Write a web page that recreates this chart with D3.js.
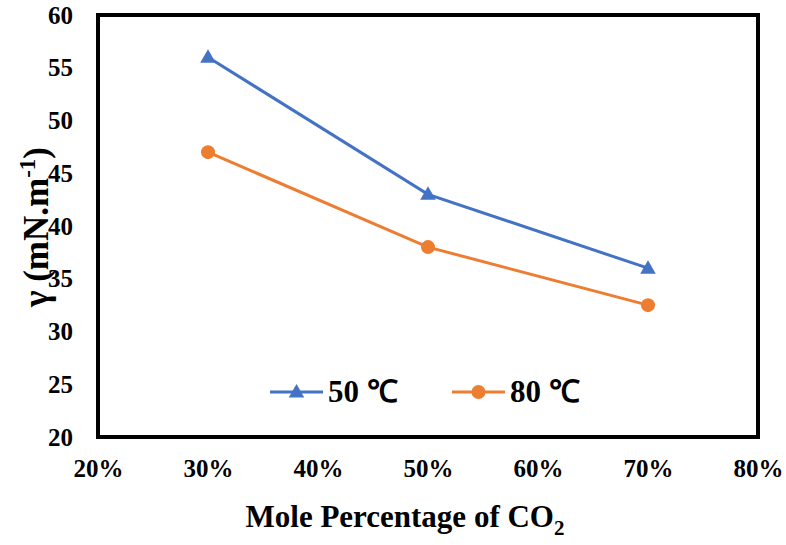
<!DOCTYPE html>
<html>
<head>
<meta charset="utf-8">
<script src="https://cdn.jsdelivr.net/npm/d3@7"></script>
<style>
  html, body { margin: 0; padding: 0; background: #fff; }
  svg { display: block; }
  text { font-family: "Liberation Serif", "Times New Roman", serif; font-weight: bold; fill: #000; }
</style>
</head>
<body>
<svg id="chart" width="786" height="545"></svg>
<script>
// CO2 mole fraction (x) and interfacial tension at two temperatures
const co2Fraction = [0.30, 0.50, 0.70];
const tension50C = [56, 43, 36];
const tension80C = [47, 38, 32.5];
const xTicks = [0.2, 0.3, 0.4, 0.5, 0.6, 0.7, 0.8];
const yTicks = [20, 25, 30, 35, 40, 45, 50, 55, 60];
const seriesNames = ["50 \u2103", "80 \u2103"];

const svg = d3.select("#chart");
const margin = { left: 98, right: 28, top: 15, bottom: 108 };
const W = 786, H = 545;
const serif = "'Liberation Serif', 'Times New Roman', serif";

const x = d3.scaleLinear().domain([0.2, 0.8]).range([margin.left, W - margin.right]);
const y = d3.scaleLinear().domain([20, 60]).range([H - margin.bottom, margin.top]);

// Y axis tick labels
svg.append("g")
  .attr("transform", `translate(${margin.left},0)`)
  .call(d3.axisLeft(y).tickValues(yTicks).tickSize(0).tickPadding(25).tickFormat(d3.format("d")))
  .attr("font-family", serif).attr("font-size", 25).attr("font-weight", "bold")
  .call(g => g.select(".domain").remove());

// X axis tick labels
svg.append("g")
  .attr("transform", `translate(0,${H - margin.bottom})`)
  .call(d3.axisBottom(x).tickValues(xTicks).tickSize(0).tickPadding(22).tickFormat(d3.format(".0%")))
  .attr("font-family", serif).attr("font-size", 25).attr("font-weight", "bold")
  .call(g => g.select(".domain").remove());

// Plot frame
svg.append("rect")
  .attr("x", x(0.2)).attr("y", y(60))
  .attr("width", x(0.8) - x(0.2)).attr("height", y(20) - y(60))
  .attr("fill", "none").attr("stroke", "#000").attr("stroke-width", 4);

const line = d3.line().x(d => x(d[0])).y(d => y(d[1]));
const blue = "#4472C4", orange = "#ED7D31";
const tri = d3.symbol().type(d3.symbolTriangle).size(105);

// 50 °C series
const s50 = co2Fraction.map((c, i) => [c, tension50C[i]]);
svg.append("path").datum(s50).attr("d", line)
  .attr("fill", "none").attr("stroke", blue).attr("stroke-width", 3);
svg.selectAll(".m50").data(s50).enter().append("path")
  .attr("transform", d => `translate(${x(d[0])},${y(d[1]) + 1})`)
  .attr("d", tri).attr("fill", blue);

// 80 °C series
const s80 = co2Fraction.map((c, i) => [c, tension80C[i]]);
svg.append("path").datum(s80).attr("d", line)
  .attr("fill", "none").attr("stroke", orange).attr("stroke-width", 3);
svg.selectAll(".m80").data(s80).enter().append("circle")
  .attr("cx", d => x(d[0])).attr("cy", d => y(d[1])).attr("r", 7).attr("fill", orange);

// Legend
const legend = svg.append("g").attr("transform", "translate(270,392)");
const items = [
  { name: seriesNames[0], color: blue, marker: "tri", dx: 0 },
  { name: seriesNames[1], color: orange, marker: "circle", dx: 182 }
];
items.forEach(it => {
  const g = legend.append("g").attr("transform", `translate(${it.dx},0)`);
  g.append("line").attr("x1", 0).attr("x2", 53).attr("y1", 0).attr("y2", 0)
    .attr("stroke", it.color).attr("stroke-width", 3);
  if (it.marker === "tri") {
    g.append("path").attr("transform", "translate(26.5,1)").attr("d", tri).attr("fill", it.color);
  } else {
    g.append("circle").attr("cx", 26.5).attr("cy", 0).attr("r", 7).attr("fill", it.color);
  }
  g.append("text").attr("x", 58).attr("y", 10).style("font-size", "31px").text(it.name);
});

// X axis title with subscript
const xt = svg.append("text").attr("x", 405).attr("y", 527)
  .attr("text-anchor", "middle").style("font-size", "31px");
xt.append("tspan").text("Mole Percentage of CO");
xt.append("tspan").attr("dy", 8).style("font-size", "21px").text("2");

// Y axis title with superscript
const yt = svg.append("text")
  .attr("transform", "translate(48,227) rotate(-90)")
  .attr("text-anchor", "middle").style("font-size", "35px");
yt.append("tspan").text("\u03b3 (mN.m");
yt.append("tspan").attr("dy", -13).style("font-size", "23px").text("-1");
yt.append("tspan").attr("dy", 13).text(")");
</script>
</body>
</html>
